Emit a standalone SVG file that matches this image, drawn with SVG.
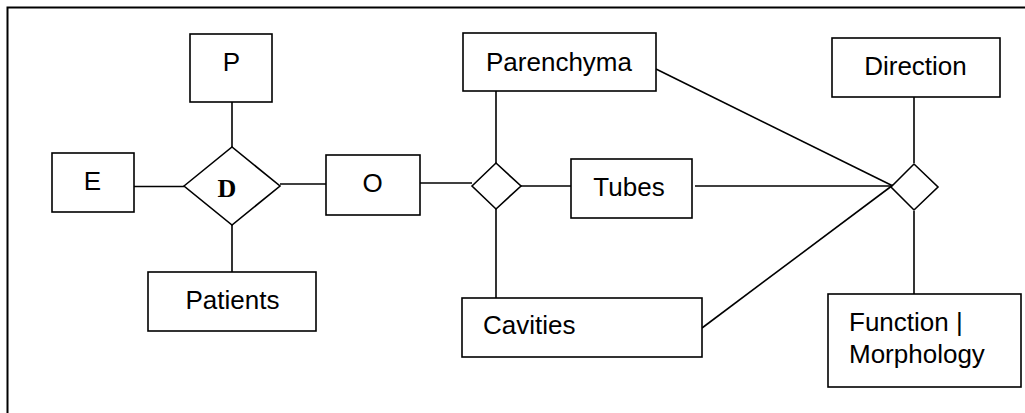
<svg xmlns="http://www.w3.org/2000/svg" width="1025" height="413" viewBox="0 0 1025 413">
  <style>
    .box { fill: #ffffff; stroke: #000000; stroke-width: 1.6; }
    .rel { fill: #ffffff; stroke: #000000; stroke-width: 1.6; }
    .link { stroke: #000000; stroke-width: 1.6; fill: none; }
    .frame { stroke: #000000; stroke-width: 2; fill: none; }
    .lbl { font-family: "Liberation Sans", Arial, sans-serif; font-size: 26px; fill: #000000; }
    .mid { text-anchor: middle; }
    .rlbl { font-family: "Liberation Serif", "Times New Roman", serif; font-size: 26px; font-weight: bold; fill: #000000; text-anchor: middle; }
  </style>
  <rect width="1025" height="413" fill="#ffffff"/>

  <!-- open border frame -->
  <path class="frame" d="M7.5,413 V7.5 H1025"/>

  <!-- connectors -->
  <g id="connectors">
    <line class="link" x1="134" y1="186.5" x2="184" y2="186.5"/>
    <line class="link" x1="232" y1="102" x2="232" y2="147"/>
    <line class="link" x1="232" y1="225" x2="232" y2="272"/>
    <line class="link" x1="280" y1="184" x2="326" y2="184"/>
    <line class="link" x1="420" y1="183" x2="472" y2="183"/>
    <line class="link" x1="496" y1="91" x2="496" y2="163"/>
    <line class="link" x1="496" y1="209" x2="496" y2="303"/>
    <line class="link" x1="521" y1="186" x2="571" y2="186"/>
    <line class="link" x1="695" y1="186" x2="893" y2="186"/>
    <line class="link" x1="656" y1="69" x2="893" y2="186"/>
    <line class="link" x1="702" y1="328" x2="893" y2="185"/>
    <line class="link" x1="914" y1="97" x2="914" y2="163"/>
    <line class="link" x1="914" y1="211" x2="914" y2="294"/>
  </g>

  <!-- relationship D -->
  <g id="rel-D">
    <polygon class="rel" points="184,186 232,147 280,186 232,225"/>
    <text class="rlbl" x="227" y="197">D</text>
  </g>

  <!-- relationship between O and the organ parts -->
  <g id="rel-organ">
    <polygon class="rel" points="472,186 496,163 521,186 496,209"/>
  </g>

  <!-- relationship between parts, direction and function -->
  <g id="rel-part">
    <polygon class="rel" points="891,187 914,164 938,187 914,210"/>
  </g>

  <g id="node-P">
    <rect class="box" x="190" y="34" width="82" height="68"/>
    <text class="lbl mid" x="231.5" y="71">P</text>
  </g>

  <g id="node-E">
    <rect class="box" x="52" y="153" width="82" height="59"/>
    <text class="lbl mid" x="92.5" y="190">E</text>
  </g>

  <g id="node-Patients">
    <rect class="box" x="148" y="272" width="168" height="59"/>
    <text class="lbl mid" x="232.5" y="309">Patients</text>
  </g>

  <g id="node-O">
    <rect class="box" x="326" y="155" width="94" height="60"/>
    <text class="lbl mid" x="372.5" y="192">O</text>
  </g>

  <g id="node-Parenchyma">
    <rect class="box" x="463" y="33" width="193" height="58"/>
    <text class="lbl mid" x="559" y="70.5">Parenchyma</text>
  </g>

  <g id="node-Tubes">
    <rect class="box" x="571" y="159" width="121" height="59"/>
    <text class="lbl mid" x="629" y="195.5">Tubes</text>
  </g>

  <g id="node-Cavities">
    <rect class="box" x="462" y="298" width="240" height="59"/>
    <text class="lbl" x="483" y="334">Cavities</text>
  </g>

  <g id="node-Direction">
    <rect class="box" x="832" y="38" width="168" height="59"/>
    <text class="lbl mid" x="915.5" y="75">Direction</text>
  </g>

  <g id="node-Function">
    <rect class="box" x="828" y="294" width="193" height="93"/>
    <text class="lbl" x="849" y="331">Function |</text>
    <text class="lbl" x="849" y="363">Morphology</text>
  </g>
</svg>
